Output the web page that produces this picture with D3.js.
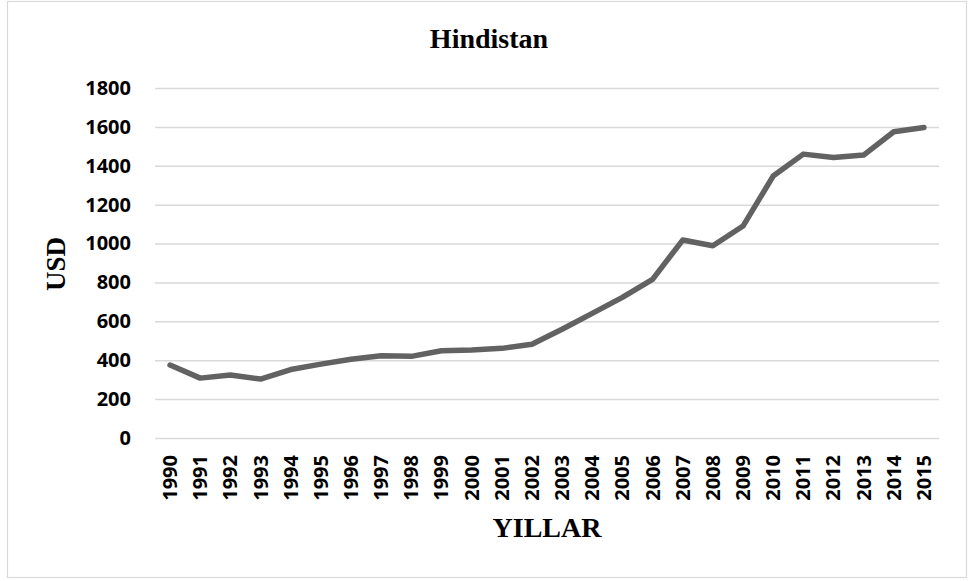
<!DOCTYPE html>
<html>
<head>
<meta charset="utf-8">
<script src="https://cdn.jsdelivr.net/npm/d3@7"></script>
<style>
  html, body { margin: 0; padding: 0; background: #fff; }
  svg { display: block; }
</style>
</head>
<body>
<svg id="chart" width="968" height="581"></svg>
<script>
// GDP per capita (USD), India, 1990–2015
const years = ["1990","1991","1992","1993","1994","1995","1996","1997","1998","1999","2000","2001","2002",
               "2003","2004","2005","2006","2007","2008","2009","2010","2011","2012","2013","2014","2015"];
const usd = [375, 308, 324, 303, 352, 380, 405, 423, 420, 449, 452, 461, 482,
             559, 641, 723, 816, 1018, 989, 1090, 1347, 1460, 1443, 1455, 1575, 1597];
const yTicks = [0, 200, 400, 600, 800, 1000, 1200, 1400, 1600, 1800];

const chartTitle = "Hindistan";
const xTitle = "YILLAR";
const yTitle = "USD";

const svg = d3.select("#chart");
const W = 968, H = 581;
const plot = { left: 155, right: 939, top: 88, bottom: 438 };

// outer frame
svg.append("rect")
  .attr("x", 7.5).attr("y", 1.5)
  .attr("width", W - 9).attr("height", H - 5)
  .attr("fill", "#fff")
  .attr("stroke", "#d9d9d9")
  .attr("stroke-width", 1.2);

const x = d3.scaleBand().domain(years).range([plot.left, plot.right]);
const y = d3.scaleLinear().domain([0, 1800]).range([plot.bottom, plot.top]);

// horizontal gridlines + value labels
const yAxis = d3.axisLeft(y)
  .tickValues(yTicks)
  .tickFormat(d3.format("d"))
  .tickSize(-(plot.right - plot.left))
  .tickPadding(24);
const gy = svg.append("g").attr("transform", `translate(${plot.left},0)`).call(yAxis);
gy.select(".domain").remove();
gy.selectAll(".tick line").attr("stroke", "#d9d9d9").attr("stroke-width", 1.5);
gy.selectAll(".tick text")
  .attr("font-family", "'Open Sans', sans-serif")
  .attr("font-weight", "bold")
  .attr("font-size", 20)
  .attr("fill", "#000");

// category labels, rotated
const xAxis = d3.axisBottom(x).tickSize(0).tickPadding(0);
const gx = svg.append("g").attr("transform", `translate(0,${plot.bottom})`).call(xAxis);
gx.select(".domain").remove();
gx.selectAll(".tick text")
  .attr("font-family", "'Open Sans', sans-serif")
  .attr("font-weight", "bold")
  .attr("font-size", 20)
  .attr("fill", "#000")
  .attr("text-anchor", "end")
  .attr("dy", null)
  .attr("transform", "translate(7,17) rotate(-90)")
  .attr("x", 0).attr("y", 0);

// the series line
const line = d3.line()
  .x((d, i) => x(years[i]) + x.bandwidth() / 2)
  .y(d => y(d));

svg.append("path")
  .datum(usd)
  .attr("d", line)
  .attr("fill", "none")
  .attr("stroke", "#626262")
  .attr("stroke-width", 5.5)
  .attr("stroke-linejoin", "round")
  .attr("stroke-linecap", "round");

// titles
svg.append("text")
  .attr("x", 489).attr("y", 48)
  .attr("text-anchor", "middle")
  .attr("font-family", "'Liberation Serif', 'Times New Roman', serif")
  .attr("font-weight", "bold")
  .attr("font-size", 28)
  .text(chartTitle);

svg.append("text")
  .attr("x", 547).attr("y", 537)
  .attr("text-anchor", "middle")
  .attr("font-family", "'Liberation Serif', 'Times New Roman', serif")
  .attr("font-weight", "bold")
  .attr("font-size", 28)
  .text(xTitle);

svg.append("text")
  .attr("transform", "translate(65,264) rotate(-90)")
  .attr("text-anchor", "middle")
  .attr("font-family", "'Liberation Serif', 'Times New Roman', serif")
  .attr("font-weight", "bold")
  .attr("font-size", 27)
  .text(yTitle);
</script>
</body>
</html>
